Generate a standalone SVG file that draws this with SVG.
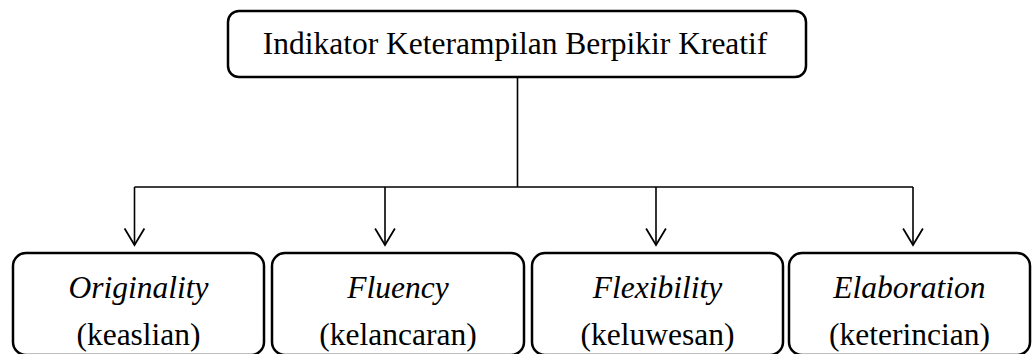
<svg xmlns="http://www.w3.org/2000/svg" width="1033" height="354" viewBox="0 0 1033 354">
<defs>
<style>
.box{fill:#fff;stroke:#000;stroke-width:2.5}
.ln{fill:none;stroke:#000;stroke-width:1.6}
text{font-family:'Liberation Serif','DejaVu Serif',serif;font-size:31.5px;fill:#000;text-anchor:middle}
.i{font-style:italic}
</style>
<marker id="ah" markerUnits="userSpaceOnUse" markerWidth="20" markerHeight="22" refX="16" refY="10" orient="auto" viewBox="0 0 18 20">
<path d="M1,1 L16,10 L1,19" fill="none" stroke="#000" stroke-width="1.6"/>
</marker>
</defs>
<rect width="1033" height="354" fill="#fff"/>
<g id="connectors">
<line class="ln" x1="517.5" y1="77" x2="517.5" y2="187"/>
<line class="ln" x1="134.5" y1="187" x2="913" y2="187"/>
<path class="ln" d="M134.5,187 V245" marker-end="url(#ah)"/>
<path class="ln" d="M385,187 V245" marker-end="url(#ah)"/>
<path class="ln" d="M656,187 V245" marker-end="url(#ah)"/>
<path class="ln" d="M913,187 V245" marker-end="url(#ah)"/>
</g>
<g id="root">
<rect class="box" x="228" y="11" width="578" height="66" rx="11"/>
<text x="515" y="54" font-family="Liberation Serif, serif">Indikator Keterampilan Berpikir Kreatif</text>
</g>
<g id="originality">
<rect class="box" x="13" y="253" width="251" height="102" rx="13"/>
<text class="i" x="138.5" y="298">Originality</text>
<text x="138.5" y="345">(keaslian)</text>
</g>
<g id="fluency">
<rect class="box" x="272" y="253" width="252" height="102" rx="13"/>
<text class="i" x="398" y="298">Fluency</text>
<text x="398" y="345">(kelancaran)</text>
</g>
<g id="flexibility">
<rect class="box" x="532" y="253" width="251" height="102" rx="13"/>
<text class="i" x="657.5" y="298">Flexibility</text>
<text x="657.5" y="345">(keluwesan)</text>
</g>
<g id="elaboration">
<rect class="box" x="789" y="253" width="241" height="102" rx="13"/>
<text class="i" x="909.5" y="298">Elaboration</text>
<text x="909.5" y="345">(keterincian)</text>
</g>
</svg>
